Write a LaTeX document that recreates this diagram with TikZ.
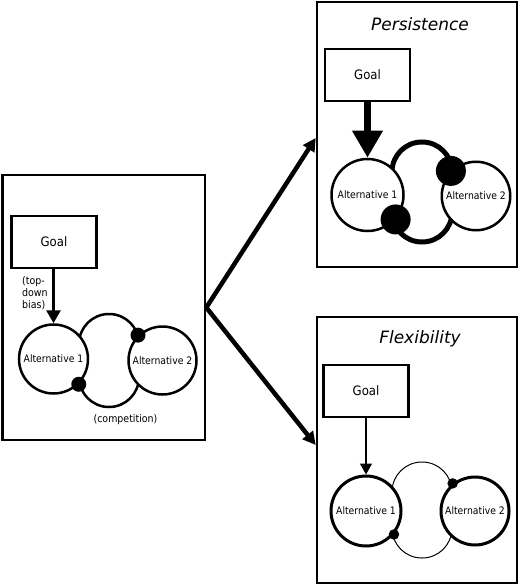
\documentclass[tikz,border=0pt]{standalone}
\usepackage{fontspec}
\setmainfont{DejaVu Sans Condensed}
\newfontfamily\titlefont{DejaVu Sans}
\usetikzlibrary{arrows.meta}
\begin{document}
\begin{tikzpicture}[x=1pt,y=-1pt,
  panelbox/.style={draw, line width=2.6pt, inner sep=0pt},
  goalbox/.style={draw, line width=2.6pt, minimum width=85pt, minimum height=52pt, inner sep=0pt, font=\fontsize{13}{15}\selectfont},
  alt/.style={circle, draw, fill=white, inner sep=0pt, font=\fontsize{10.3}{12}\selectfont},
  comp/.style={draw, rounded corners=29.9pt, inner sep=0pt},
  dotnode/.style={circle, fill=black, inner sep=0pt, minimum size=#1},
  titletext/.style={font=\titlefont\itshape\fontsize{17}{20}\selectfont},
  smalltext/.style={font=\fontsize{10.5}{12}\selectfont, inner sep=0pt}
]
\useasboundingbox (0,0) rectangle (520,585);

% ---------- panels ----------
\node[panelbox, minimum width=202.5pt, minimum height=265pt] (left) at (103.75,307.5) {};
\node[panelbox, minimum width=200pt, minimum height=265pt] (top) at (417,134.5) {};
\node[panelbox, minimum width=200pt, minimum height=266pt] (bot) at (417,450) {};

% ---------- left panel ----------
\node[goalbox] (lgoal) at (54,242) {Goal};
\node[comp, line width=2.5pt, minimum width=60pt, minimum height=93pt] (lcomp) at (109,360.5) {};
\node[alt, line width=2.5pt, minimum size=69pt] (lalt1) at (53.5,359) {Alternative 1};
\node[alt, line width=2.5pt, minimum size=68pt] (lalt2) at (162.5,360.5) {Alternative 2};
\node[dotnode=15pt] (ldot1) at (lalt1.-45) {};
\node[dotnode=15pt] (ldot2) at (lalt2.134) {};
\draw[line width=2.8pt, -{Triangle[width=14pt,length=13pt]}] (lgoal.south -| lalt1.north) -- (lalt1.north);
\node[smalltext, anchor=north west, align=left] (bias) at (22,276) {(top-\\down\\bias)};
\node[smalltext] (complabel) at (125.5,420) {(competition)};

% ---------- persistence panel ----------
\node[titletext] (ptitle) at (420,24) {Persistence};
\node[goalbox] (pgoal) at (367.5,75) {Goal};
\node[comp, line width=5pt, minimum width=60pt, minimum height=100pt] (pcomp) at (422,192) {};
\node[alt, line width=2.5pt, minimum size=72pt] (palt1) at (367.5,195) {Alternative 1};
\node[alt, line width=2.5pt, minimum size=68.5pt] (palt2) at (476,196) {Alternative 2};
\node[dotnode=30pt] (pdot1) at (palt1.-41) {};
\node[dotnode=30pt] (pdot2) at (palt2.135) {};
\draw[line width=7.5pt, -{Triangle[width=29pt,length=27pt]}] (pgoal.south -| palt1.north) -- (palt1.north);

% ---------- flexibility panel ----------
\node[titletext] (ftitle) at (420,339) {Flexibility};
\node[goalbox] (fgoal) at (366,391) {Goal};
\node[comp, line width=1pt, minimum width=60pt, minimum height=96pt] (fcomp) at (422,510) {};
\node[alt, line width=3pt, minimum size=70pt] (falt1) at (366,511) {Alternative 1};
\node[alt, line width=3pt, minimum size=68pt] (falt2) at (475,511) {Alternative 2};
\node[dotnode=10.5pt] (fdot1) at (falt1.-40) {};
\node[dotnode=10.5pt] (fdot2) at (falt2.129) {};
\draw[line width=1.2pt, -{Triangle[width=12pt,length=11pt]}] (fgoal.south -| falt1.north) -- (falt1.north);

% ---------- connectors between panels ----------
\coordinate (split) at (left.east);
\draw[line width=4.5pt, -{Triangle[width=13pt,length=13pt]}] (split) -- (top.west |- 0,138);
\draw[line width=4.5pt, -{Triangle[width=13pt,length=13pt]}] (split) -- (bot.west |- 0,445);
\end{tikzpicture}
\end{document}
